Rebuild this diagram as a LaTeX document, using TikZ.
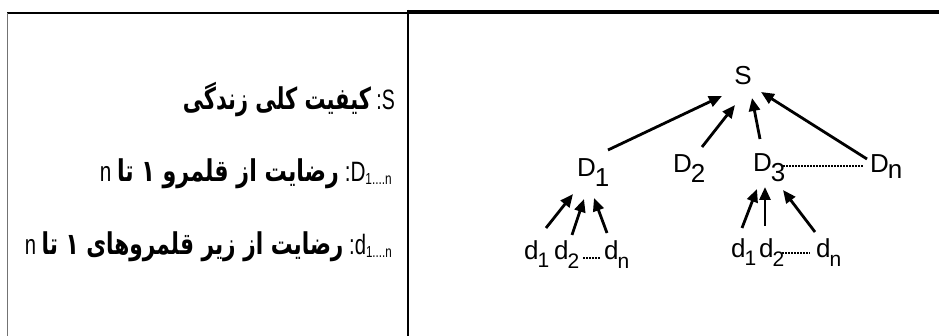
\documentclass[tikz,border=0pt]{standalone}
\usepackage{fontspec}
\usepackage{graphicx}
\setmainfont{Liberation Sans}
\newfontfamily\arabicfont[Script=Arabic]{DejaVu Sans}
\usetikzlibrary{arrows.meta}
\TeXXeTstate=1
\newcommand\lowsub[2]{\raisebox{-#1}{#2}}
\newcommand\smallsub[1]{\raisebox{-3pt}{\fontsize{16}{16}\selectfont #1}}
\newcommand\latin[1]{{\rmfamily\mdseries\fontsize{28}{30}\selectfont #1}}
\newcommand\fa[1]{{\fontsize{30}{32}\selectfont\arabicfont\bfseries\beginR #1\endR}}
\begin{document}
\begin{tikzpicture}[x=1pt,y=-1pt,
  lbl/.style={inner sep=0pt, anchor=base west, font=\fontsize{26}{30}\selectfont},
  arr/.style={line width=2.8pt, -{Triangle[length=13pt,width=11pt]}},
  dots/.style={line width=2.2pt, dash pattern=on 1.8pt off 1.2pt},
  ltxt/.style={inner sep=0pt, anchor=base east}]
\useasboundingbox (0,0) rectangle (939,336);
\fill[white] (0,0) rectangle (939,336);
% table rules
\draw[line width=2.5pt] (7,13) -- (407,13);
\draw[line width=4pt] (407,12) -- (939,12);
\draw[line width=1pt, black!55] (7.8,13) -- (7.8,336);
\draw[line width=2pt] (408,10) -- (408,336);
% left column legend (laid out left to right as printed)
\node[ltxt] (t1) at (395,110) {\resizebox{212pt}{\height}{\fa{کیفیت کلی زندگی}\latin{ :S}}};
\node[ltxt] (t2) at (392,182) {\resizebox{292pt}{\height}{\latin{n }\fa{رضایت از قلمرو ۱ تا}\latin{ :D\smallsub{1....n}}}};
\node[ltxt] (t3) at (392,255) {\resizebox{367pt}{\height}{\latin{n }\fa{رضایت از زیر قلمروهای ۱ تا}\latin{ :d\smallsub{1....n}}}};
% tree nodes
\node[lbl, anchor=base] (S) at (743,85) {S};
\node[lbl] (D1) at (577,177) {D\kern-1pt\lowsub{10pt}{1}};
\node[lbl] (D2) at (673,173) {D\kern-1pt\lowsub{10pt}{2}};
\node[lbl] (D3) at (753,172) {D\kern-1pt\lowsub{10pt}{3}};
\node[lbl] (Dn) at (870,173) {D\kern-1pt\lowsub{6pt}{n}};
\node[lbl] (d1L) at (524,260) {d\kern-1pt\lowsub{8pt}{\fontsize{21}{21}\selectfont 1}};
\node[lbl] (d2L) at (554,260) {d\kern-1pt\lowsub{9pt}{\fontsize{21}{21}\selectfont 2}};
\node[lbl] (dnL) at (604,260) {d\kern-1pt\lowsub{9pt}{\fontsize{21}{21}\selectfont n}};
\node[lbl] (d1R) at (731,258) {d\kern-1pt\lowsub{8pt}{\fontsize{21}{21}\selectfont 1}};
\node[lbl] (d2R) at (759,258) {d\kern-1pt\lowsub{9pt}{\fontsize{21}{21}\selectfont 2}};
\node[lbl] (dnR) at (816,258) {d\kern-1pt\lowsub{9pt}{\fontsize{21}{21}\selectfont n}};
% arrows to S
\draw[arr] ([shift={(31,-27)}]D1.base west) -- ([shift={(-21,11)}]S.base);
\draw[arr] ([shift={(29,-26)}]D2.base west) -- ([shift={(-8,20)}]S.base);
\draw[arr] ([shift={(7,-33)}]D3.base west) -- ([shift={(9,13)}]S.base);
\draw[arr] ([shift={(-3,-14)}]Dn.base west) -- ([shift={(18,7)}]S.base);
% arrows to D1
\draw[arr] ([shift={(22,-32)}]d1L.base west) -- ([shift={(-4,17)}]D1.base west);
\draw[arr] ([shift={(18,-25)}]d2L.base west) -- ([shift={(7,22)}]D1.base west);
\draw[arr] ([shift={(3,-27)}]dnL.base west) -- ([shift={(17,21)}]D1.base west);
% arrows to D3
\draw[arr] ([shift={(11,-30)}]d1R.base west) -- ([shift={(4,17)}]D3.base west);
\draw[arr] ([shift={(6,-32)}]d2R.base west) -- ([shift={(12,15)}]D3.base west);
\draw[arr] ([shift={(-1,-26)}]dnR.base west) -- ([shift={(30,18)}]D3.base west);
% dotted links
\draw[dots] ([shift={(30,-6)}]D3.base west) -- ([shift={(-7,-7)}]Dn.base west);
\draw[dots] ([shift={(29,-2)}]d2L.base west) -- ([shift={(-4,-2)}]dnL.base west);
\draw[dots] ([shift={(23,-5)}]d2R.base west) -- ([shift={(-6,-5)}]dnR.base west);
\end{tikzpicture}
\end{document}
